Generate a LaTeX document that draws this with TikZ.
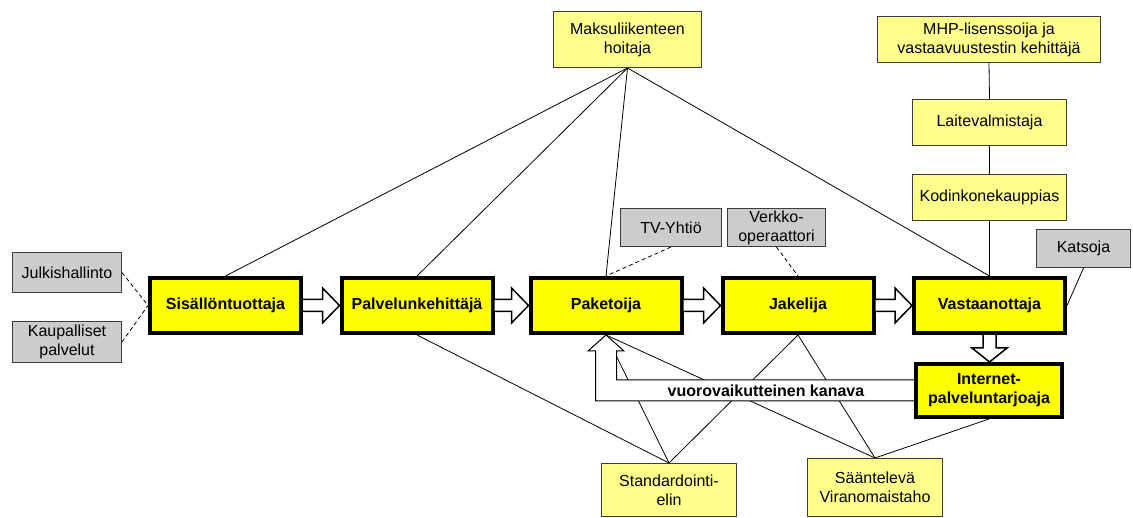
\documentclass[tikz,border=0pt]{standalone}
\usepackage{fontspec}
\setmainfont{Liberation Sans}
\usetikzlibrary{calc}

\pgfdeclarelayer{lines}
\pgfdeclarelayer{channel}
\pgfsetlayers{lines,channel,main}

\definecolor{hiyellow}{RGB}{255,255,0}
\definecolor{paleyellow}{RGB}{255,255,140}
\definecolor{boxgrey}{RGB}{204,204,204}
\definecolor{edgegrey}{RGB}{60,60,60}

\tikzset{
  chainbox/.style={draw=black, line width=4pt, fill=hiyellow,
    font=\bfseries\fontsize{16}{19}\selectfont, align=center, inner sep=0pt,
    minimum width=151pt, minimum height=55pt},
  rolebox/.style={draw=edgegrey, line width=1pt, fill=paleyellow,
    font=\fontsize{16}{19}\selectfont, align=center, inner sep=0pt},
  greybox/.style={rolebox, fill=boxgrey},
  link/.style={draw=black, line width=0.8pt},
  dlink/.style={link, dash pattern=on 4pt off 3pt},
  fatarrow/.style={draw=black, line width=1.5pt, fill=white, line join=miter},
  chanarrow/.style={draw=black, line width=1pt, fill=white, line join=miter},
}

% hollow block arrow from the right side of one box to the left side of the next
\newcommand\flowarrow[2]{%
  \draw[fatarrow] let \p1=(#1.east), \p2=(#2.west) in
    (\x1,\y1+6) -- (\x2-17,\y1+6) -- (\x2-17,\y1+17.5) -- (\x2,\y1)
    -- (\x2-17,\y1-17.5) -- (\x2-17,\y1-6) -- (\x1,\y1-6);}

\begin{document}
\begin{tikzpicture}[x=1pt, y=-1pt]
\useasboundingbox (0,0) rectangle (1133,518);

% value chain
\node[chainbox] (sis) at (225.5,305.5) {Sisällöntuottaja};
\node[chainbox] (pal) at (417,305.5) {Palvelunkehittäjä};
\node[chainbox] (pak) at (606,305.5) {Paketoija};
\node[chainbox] (jak) at (798,305.5) {Jakelija};
\node[chainbox] (vas) at (989.5,305.5) {Vastaanottaja};
\node[chainbox, minimum width=146pt, minimum height=53pt] (int) at (989,390.5) {Internet-\\palveluntarjoaja};

% surrounding actors
\node[greybox, minimum width=109pt, minimum height=40pt] (jul) at (67,272.5) {Julkishallinto};
\node[greybox, minimum width=109pt, minimum height=41pt] (kau) at (67,342) {Kaupalliset\\palvelut};
\node[rolebox, minimum width=148pt, minimum height=56pt] (mak) at (627.5,39.5) {Maksuliikenteen\\hoitaja};
\node[rolebox, minimum width=223pt, minimum height=46pt] (mhp) at (989,39.5) {MHP-lisenssoija ja\\vastaavuustestin kehittäjä};
\node[rolebox, minimum width=154pt, minimum height=46pt] (lai) at (989.5,122.5) {Laitevalmistaja};
\node[rolebox, minimum width=154pt, minimum height=46pt] (kod) at (989.5,197.5) {Kodinkonekauppias};
\node[greybox, minimum width=94pt, minimum height=38pt] (kat) at (1083.5,248.5) {Katsoja};
\node[greybox, minimum width=101pt, minimum height=38pt] (tv) at (671,227.5) {TV-Yhtiö};
\node[greybox, minimum width=98pt, minimum height=38pt] (ver) at (776.5,227.5) {Verkko-\\operaattori};
\node[rolebox, minimum width=135pt, minimum height=53pt] (std) at (669,490) {Standardointi-\\elin};
\node[rolebox, minimum width=135pt, minimum height=58pt] (saa) at (875,487.5) {Sääntelevä\\Viranomaistaho};

% flow along the chain
\flowarrow{sis}{pal}
\flowarrow{pal}{pak}
\flowarrow{pak}{jak}
\flowarrow{jak}{vas}
\draw[fatarrow] let \p1=(vas.south), \p2=(int.north) in
  (\x1-6.5,\y1) -- (\x1-6.5,\y2+14) -- (\x1-17.5,\y2+14) -- (\x1,\y2)
  -- (\x1+17.5,\y2+14) -- (\x1+6.5,\y2+14) -- (\x1+6.5,\y1);

% return channel back to the packager
\begin{pgfonlayer}{channel}
\draw[chanarrow] let \p1=(pak.south), \p2=(int.center) in
  (\x2,\y2+10.5) -- (\x1+10.5,\y2+10.5) -- (\x1+10.5,\y1-16) -- (\x1+18,\y1-16)
  -- (\x1,\y1) -- (\x1-18,\y1-16) -- (\x1-10.5,\y1-16) -- (\x1-10.5,\y2-10.5)
  -- (\x2,\y2-10.5);
\end{pgfonlayer}
\node[font=\bfseries\fontsize{16}{19}\selectfont, inner sep=0pt] (chan) at (766,390.5) {vuorovaikutteinen kanava};

% relations
\begin{pgfonlayer}{lines}
\draw[dlink] (jul.east) -- (sis.west);
\draw[dlink] (kau.east) -- (sis.west);
\foreach \n in {sis,pal,pak,vas} \draw[link] (mak.south) -- (\n.north);
\draw[link] (mhp.south) -- (lai.north);
\draw[link] (lai.south) -- (kod.north);
\draw[link] (kod.south) -- (vas.north);
\draw[link] (kat.south) -- (vas.east);
\draw[dlink] (tv.south) -- (pak.north);
\draw[dlink] (ver.south) -- (jak.north);
\draw[link] (pal.south) -- (std.north);
\foreach \n in {pak,jak} {
  \draw[link] (\n.south) -- (std.north);
  \draw[link] (\n.south) -- (saa.north);
}
\draw[link] (int.south) -- (saa.north);
\end{pgfonlayer}
\end{tikzpicture}
\end{document}
